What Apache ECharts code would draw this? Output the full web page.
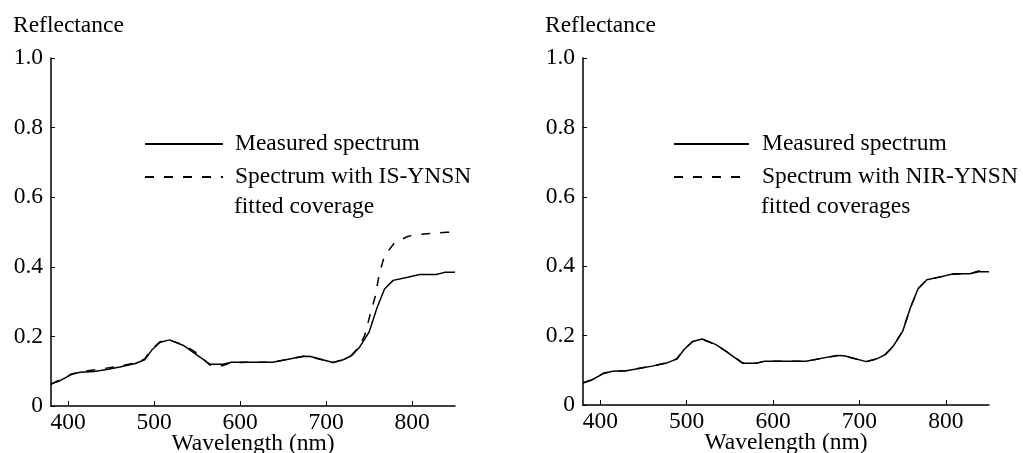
<!DOCTYPE html>
<html>
<head>
<meta charset="utf-8">
<script src="https://cdn.jsdelivr.net/npm/echarts@6/dist/echarts.min.js"></script>
<style>
html,body{margin:0;padding:0;background:#fff;}
#chart{width:1023px;height:453px;}
</style>
</head>
<body>
<div id="chart"></div>
<script>
// ---- data ----
const xTicks = [400, 500, 600, 700, 800];
const measuredWl = [380, 390, 404, 414, 430, 445, 460, 478, 489, 497, 507, 518, 534, 548, 565, 580, 590, 638, 674, 682, 708, 720, 730, 739, 750, 759, 768, 778, 795, 809, 828, 838, 850];
const measured = [0.064, 0.072, 0.091, 0.097, 0.099, 0.105, 0.112, 0.122, 0.133, 0.160, 0.183, 0.190, 0.174, 0.150, 0.120, 0.120, 0.126, 0.126, 0.143, 0.142, 0.125, 0.133, 0.145, 0.169, 0.212, 0.280, 0.336, 0.361, 0.370, 0.378, 0.378, 0.384, 0.384];
const isFitWl = [380, 390, 404, 420, 440, 460, 478, 489, 497, 507, 518, 534, 548, 565, 580, 590, 638, 674, 682, 708, 720, 730, 739, 745, 751, 757, 762, 768, 780, 795, 805, 825, 840, 850];
const isFit = [0.062, 0.075, 0.092, 0.100, 0.107, 0.115, 0.124, 0.135, 0.163, 0.185, 0.189, 0.176, 0.155, 0.117, 0.116, 0.125, 0.126, 0.143, 0.141, 0.125, 0.133, 0.147, 0.172, 0.203, 0.260, 0.313, 0.380, 0.432, 0.470, 0.487, 0.493, 0.496, 0.499, 0.499];
const nirFitWl = [380, 390, 404, 414, 430, 445, 460, 478, 489, 497, 507, 518, 534, 548, 565, 580, 590, 638, 674, 682, 708, 720, 730, 739, 750, 759, 768, 778, 795, 809, 828, 838, 850];
const nirFit = [0.063, 0.072, 0.092, 0.097, 0.099, 0.106, 0.112, 0.122, 0.134, 0.161, 0.183, 0.189, 0.174, 0.151, 0.121, 0.120, 0.126, 0.126, 0.142, 0.142, 0.125, 0.133, 0.146, 0.169, 0.213, 0.280, 0.335, 0.361, 0.370, 0.377, 0.379, 0.386, 0.383];
const seriesNames = ['Measured spectrum', 'Spectrum with IS-YNSN fitted coverage', 'Spectrum with NIR-YNSN fitted coverages'];

const pairs = (xs, ys) => xs.map((x, i) => [x, ys[i]]);
const FONT = 'Liberation Serif';
const FS = 23.5;
const FONTSTR = FS + 'px "' + FONT + '"';

function xAxis(gi) {
  return {
    type: 'value', gridIndex: gi, min: 380, max: 850,
    name: 'Wavelength (nm)', nameLocation: 'middle', nameGap: 26, nameMoveOverlap: false,
    nameTextStyle: {fontFamily: FONT, fontSize: FS, color: '#000'},
    axisLine: {lineStyle: {color: '#000', width: 1.5}},
    axisTick: {inside: true, length: 5, lineStyle: {color: '#000', width: 1}, customValues: xTicks},
    axisLabel: {fontFamily: FONT, fontSize: FS, color: '#000', margin: 5, customValues: xTicks},
    splitLine: {show: false}
  };
}
function yAxis(gi) {
  return {
    type: 'value', gridIndex: gi, min: 0, max: 1, interval: 0.2,
    axisLine: {show: true, lineStyle: {color: '#000', width: 1.5}},
    axisTick: {show: true, inside: true, length: 4, lineStyle: {color: '#000', width: 1}},
    axisLabel: {fontFamily: FONT, fontSize: FS, color: '#000', margin: 8,
      formatter: v => v === 0 ? '0' : v.toFixed(1)},
    splitLine: {show: false}
  };
}
function line(name, data, gi, dashed) {
  return {
    type: 'line', name: name, xAxisIndex: gi, yAxisIndex: gi, data: data,
    symbol: 'none', showSymbol: false, smooth: false, animation: false,
    lineStyle: {color: '#000', width: 1.5, type: dashed ? [9, 10] : 'solid'},
    itemStyle: {color: '#000'}
  };
}
function legend(left, names, iw, pad) {
  return {
    orient: 'vertical', left: left, top: 126, itemWidth: iw, itemHeight: 12, itemGap: 7,
    data: names,
    itemStyle: {opacity: 0},
    formatter: n => n.replace(/ fitted coverages?$/, ''),
    textStyle: {fontFamily: FONT, fontSize: FS, color: '#000', lineHeight: 26, padding: [0, 0, 0, pad]},
    selectedMode: false
  };
}

const chart = echarts.init(document.getElementById('chart'), null, {renderer: 'canvas'});
chart.setOption({
  animation: false,
  backgroundColor: '#fff',
  grid: [
    {left: 51, top: 58, width: 404, height: 348, outerBoundsMode: 'none', containLabel: false},
    {left: 583, top: 58, width: 406, height: 347, outerBoundsMode: 'none', containLabel: false}
  ],
  xAxis: [xAxis(0), xAxis(1)],
  yAxis: [yAxis(0), yAxis(1)],
  legend: [
    legend(139, [seriesNames[0], seriesNames[1]], 78, 7),
    legend(668, [seriesNames[0], seriesNames[2]], 75, 8)
  ],
  graphic: [
    {type: 'text', x: 13, y: 26, style: {text: 'Reflectance', font: FONTSTR, fill: '#000', verticalAlign: 'middle'}},
    {type: 'text', x: 545, y: 26, style: {text: 'Reflectance', font: FONTSTR, fill: '#000', verticalAlign: 'middle'}},
    {type: 'text', x: 234, y: 207, style: {text: 'fitted coverage', font: FONTSTR, fill: '#000', verticalAlign: 'middle'}},
    {type: 'text', x: 761, y: 207, style: {text: 'fitted coverages', font: FONTSTR, fill: '#000', verticalAlign: 'middle'}}
  ],
  series: [
    line(seriesNames[0], pairs(measuredWl, measured), 0, false),
    line(seriesNames[1], pairs(isFitWl, isFit), 0, true),
    line(seriesNames[0], pairs(measuredWl, measured), 1, false),
    line(seriesNames[2], pairs(nirFitWl, nirFit), 1, true)
  ]
});
</script>
</body>
</html>
